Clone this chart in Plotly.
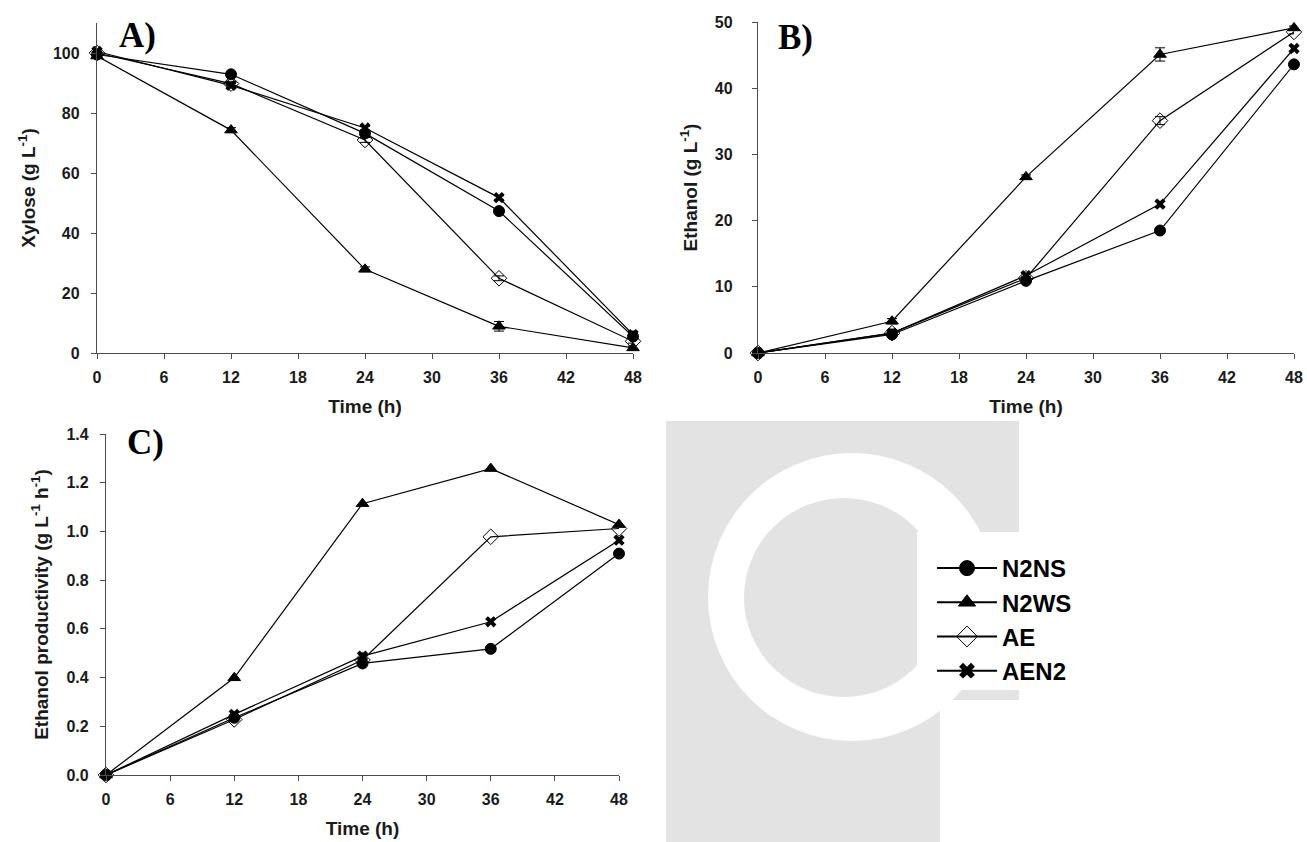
import plotly.graph_objects as go

# ---------------- data ----------------
time_h = [0, 12, 24, 36, 48]
series_names = ["N2NS", "N2WS", "AE", "AEN2"]

xylose = {
    "N2NS": [99.5, 92.9, 73.2, 47.3, 5.5],
    "N2WS": [99.0, 74.3, 27.9, 8.9, 1.7],
    "AE":   [100.0, 89.8, 71.0, 24.9, 3.9],
    "AEN2": [100.5, 89.2, 75.0, 51.8, 6.1],
}
xylose_err = {
    "N2NS": [0.8, 0.8, 0.8, 0.8, 0.8],
    "N2WS": [0.6, 0.8, 0.8, 1.6, 0.6],
    "AE":   [0.6, 0.6, 0.8, 0.8, 0.6],
    "AEN2": [0.6, 0.6, 0.6, 0.6, 0.6],
}
ethanol = {
    "N2NS": [0.0, 2.8, 10.9, 18.5, 43.6],
    "N2WS": [0.0, 4.8, 26.6, 45.1, 49.1],
    "AE":   [0.0, 3.0, 11.3, 35.1, 48.5],
    "AEN2": [0.0, 3.0, 11.7, 22.5, 46.0],
}
ethanol_err = {
    "N2NS": [0.0, 0.3, 0.3, 0.4, 0.3],
    "N2WS": [0.0, 0.4, 0.3, 1.0, 0.3],
    "AE":   [0.0, 0.3, 0.3, 0.6, 0.3],
    "AEN2": [0.0, 0.3, 0.3, 0.4, 0.5],
}
productivity = {
    "N2NS": [0.0, 0.235, 0.458, 0.518, 0.909],
    "N2WS": [0.0, 0.399, 1.114, 1.258, 1.028],
    "AE":   [0.0, 0.228, 0.472, 0.978, 1.012],
    "AEN2": [0.0, 0.249, 0.488, 0.629, 0.964],
}

x_ticks = [0, 6, 12, 18, 24, 30, 36, 42, 48]

# ---------------- style ----------------
W, H = 1307, 842
FONT = "Liberation Sans, Arial, sans-serif"
AXC = "#4d4d4d"
TXT = "#1a1a1a"
markers = {
    "N2NS": dict(symbol="circle", size=11, color="black", line=dict(color="black", width=1)),
    "N2WS": dict(symbol="triangle-up", size=11, color="black", line=dict(color="black", width=1)),
    "AE":   dict(symbol="diamond-open", size=12, color="black", line=dict(color="black", width=1)),
    "AEN2": dict(symbol="x", size=10, color="black", line=dict(color="black", width=0)),
}
legend_markers = {
    "N2NS": dict(symbol="circle", size=15, color="black", line=dict(color="black", width=1)),
    "N2WS": dict(symbol="triangle-up", size=15, color="black", line=dict(color="black", width=1)),
    "AE":   dict(symbol="diamond-open", size=16, color="black", line=dict(color="black", width=1)),
    "AEN2": dict(symbol="x", size=14, color="black", line=dict(color="black", width=0)),
}

def px_x(p):
    return p / W

def px_y(p):
    return 1 - p / H

fig = go.Figure()

panels = [
    ("x", "y", xylose, xylose_err),
    ("x2", "y2", ethanol, ethanol_err),
    ("x3", "y3", productivity, None),
]
for xa, ya, data, err in panels:
    for name in series_names:
        tr = dict(
            x=time_h, y=data[name], mode="lines+markers", name=name,
            xaxis=xa, yaxis=ya, cliponaxis=False,
            line=dict(color="black", width=1.2),
            marker=markers[name], showlegend=False,
        )
        if err is not None:
            tr["error_y"] = dict(type="data", array=err[name], visible=True,
                                 color="black", thickness=1, width=5)
        fig.add_trace(go.Scatter(**tr))

# legend entries (legend-only traces)
for name in series_names:
    fig.add_trace(go.Scatter(
        x=[None], y=[None], mode="lines+markers", name=name, xaxis="x3", yaxis="y3",
        line=dict(color="black", width=2), marker=legend_markers[name], showlegend=True,
    ))

def xaxis(domain, anchor):
    return dict(
        domain=domain, anchor=anchor, range=[0, 48], tickvals=x_ticks, automargin=False,
        showline=True, linecolor=AXC, linewidth=1.3, ticks="outside",
        ticklen=5, tickcolor=AXC, tickwidth=1.3, showgrid=False, zeroline=False,
        ticklabelstandoff=5,
        tickfont=dict(family=FONT, size=16, color=TXT, weight="bold"),
        title=dict(text="Time (h)", font=dict(family=FONT, size=19, color=TXT, weight="bold"),
                   standoff=14),
    )

def yaxis(domain, anchor, rng, dtick, title, lstand, tstand, fmt=None):
    d = dict(
        domain=domain, anchor=anchor, range=rng, dtick=dtick, tick0=0, automargin=False,
        showline=True, linecolor=AXC, linewidth=1.3, ticks="outside",
        ticklen=5, tickcolor=AXC, tickwidth=1.3, showgrid=False, zeroline=False,
        ticklabelstandoff=lstand,
        tickfont=dict(family=FONT, size=16, color=TXT, weight="bold"),
        title=dict(text=title, font=dict(family=FONT, size=19, color=TXT, weight="bold"),
                   standoff=tstand),
    )
    if fmt:
        d["tickformat"] = fmt
    return d

fig.update_layout(
    width=W, height=H,
    margin=dict(l=0, r=0, t=0, b=0),
    paper_bgcolor="white", plot_bgcolor="rgba(0,0,0,0)",
    xaxis=xaxis([px_x(97), px_x(633)], "y"),
    yaxis=yaxis([px_y(353), px_y(23)], "x", [0, 110], 20, "Xylose (g L<sup>-1</sup>)", 8, 12),
    xaxis2=xaxis([px_x(758), px_x(1294)], "y2"),
    yaxis2=yaxis([px_y(353), px_y(22)], "x2", [0, 50], 10, "Ethanol (g L<sup>-1</sup>)", 16, 12),
    xaxis3=xaxis([px_x(106), px_x(619)], "y3"),
    yaxis3=yaxis([px_y(775), px_y(434)], "x3", [0, 1.4], 0.2,
                 "Ethanol productivity (g L<sup>-1</sup> h<sup>-1</sup>)", 8, 12, ".1f"),
    legend=dict(
        x=px_x(932), y=px_y(546), xanchor="left", yanchor="top",
        bgcolor="rgba(0,0,0,0)", borderwidth=0,
        font=dict(family=FONT, size=24, color="black", weight="bold"),
        itemwidth=60,
    ),
    showlegend=True,
)

# panel letters
for txt, cx, cy in [("A)", 137, 35), ("B)", 795, 37), ("C)", 145, 442)]:
    fig.add_annotation(
        text=f"<b>{txt}</b>", x=px_x(cx), y=px_y(cy), xref="paper", yref="paper",
        showarrow=False, xanchor="center", yanchor="middle",
        font=dict(family="Liberation Serif, Times New Roman, serif", size=35, color="black"),
    )

# faint background watermark (approximation) and white legend box
GR = "#e3e3e3"
shapes = [
    dict(type="rect", xref="paper", yref="paper", x0=px_x(666), x1=px_x(1019),
         y0=px_y(842), y1=px_y(421), fillcolor=GR, line=dict(width=0), layer="below"),
    dict(type="circle", xref="paper", yref="paper", x0=px_x(708), x1=px_x(996),
         y0=px_y(741), y1=px_y(453), fillcolor="white", line=dict(width=0), layer="below"),
    dict(type="circle", xref="paper", yref="paper", x0=px_x(744), x1=px_x(944),
         y0=px_y(697), y1=px_y(498), fillcolor=GR, line=dict(width=0), layer="below"),
    dict(type="rect", xref="paper", yref="paper", x0=px_x(940), x1=px_x(1019),
         y0=px_y(842), y1=px_y(700), fillcolor="white", line=dict(width=0), layer="below"),
    dict(type="rect", xref="paper", yref="paper", x0=px_x(917), x1=px_x(1103),
         y0=px_y(690), y1=px_y(532), fillcolor="white", line=dict(width=0), layer="below"),
]
fig.update_layout(shapes=shapes)

fig.write_html("out.html")
